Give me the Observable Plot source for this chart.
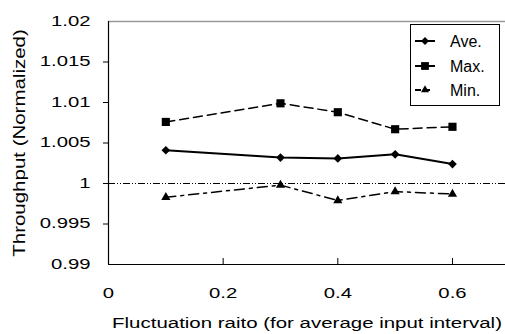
<!DOCTYPE html>
<html><head><meta charset="utf-8">
<script src="https://cdn.jsdelivr.net/npm/d3@7"></script>
<script src="https://cdn.jsdelivr.net/npm/@observablehq/plot@0.6"></script>
<style>
body{margin:0;background:#fff}
#chart{position:relative;width:505px;height:334px}
#chart svg.overlay{position:absolute;left:0;top:0;pointer-events:none}
</style></head><body><div id="chart"></div>
<script>
// ---- data ----
const xValues = [0.1, 0.3, 0.4, 0.5, 0.6];
const aveValues = [1.0041, 1.0032, 1.0031, 1.0036, 1.0024];
const maxValues = [1.0076, 1.0099, 1.0088, 1.0067, 1.0070];
const minValues = [0.9983, 0.9998, 0.9979, 0.9990, 0.9987];
const seriesNames = ["Ave.", "Max.", "Min."];
const yTicks = [0.99, 0.995, 1, 1.005, 1.01, 1.015, 1.02];
const yTickLabels = ["0.99", "0.995", "1", "1.005", "1.01", "1.015", "1.02"];
const xTicks = [0, 0.2, 0.4, 0.6];
const xTickLabels = ["0", "0.2", "0.4", "0.6"];
const referenceValue = [1];
const xLabel = "Fluctuation raito (for average input interval)";
const yLabel = "Throughput (Normalized)";

// ---- styles ----
const seriesStyle = {
  "Ave.": {symbol: "diamond2", r: 3.9, width: 2, dash: null, lDash: null, lr: 3.6},
  "Max.": {symbol: "square", r: 4.6, width: 1.5, dash: "9,5", lDash: null, lr: 4.4},
  "Min.": {symbol: "triangle", r: 3.4, width: 1.5, dash: "10,5,3,5", lDash: "6,6,3,20", lr: 3.0}
};
const seriesValues = [aveValues, maxValues, minValues];
const rows = seriesNames.flatMap((name, s) =>
  xValues.map((x, i) => ({series: name, x, y: seriesValues[s][i]})));

const font = "'Liberation Sans', Arial, sans-serif";
const W = 505, H = 334, mL = 108, mR = 0, mT = 21, mB = 70;
const frameH = H - mT - mB;

const marks = [
  Plot.ruleY(referenceValue, {y: d => d, stroke: "#000", strokeWidth: 1, strokeDasharray: "7,2,1,2,1,2"}),
  Plot.ruleY([yTicks[yTicks.length - 1]], {y: d => d, stroke: "#9a9a9a", strokeWidth: 1.5}),
  Plot.ruleY([yTicks[0]], {y: d => d, stroke: "#000", strokeWidth: 1.2}),
  Plot.ruleX([xTicks[0]], {x: d => d, stroke: "#000", strokeWidth: 1.2}),
  Plot.ruleX(xTicks.slice(1), {x: d => d, stroke: "#000", strokeWidth: 1, insetTop: frameH - 6}),
  Plot.axisY(yTicks.slice(1, -1), {tickSize: 5, tickFormat: () => "", stroke: "#000"}),
  Plot.axisY({ticks: yTicks, tickSize: 0, tickPadding: 18, fontSize: 14, fill: "#000",
    tickFormat: d => yTickLabels[yTicks.indexOf(d)]}),
  Plot.axisX({ticks: xTicks, tickSize: 0, tickPadding: 24, fontSize: 14, fill: "#000",
    tickFormat: d => xTickLabels[xTicks.indexOf(d)]}),
  Plot.text([xLabel], {text: d => d, frameAnchor: "bottom", dy: 63, fontSize: 15.5, fill: "#000"}),
  Plot.text([yLabel], {text: d => d, frameAnchor: "left", textAnchor: "middle", lineAnchor: "middle",
    dx: -89, rotate: -90, fontSize: 16, fill: "#000"})
];
for (const name of seriesNames) {
  const st = seriesStyle[name];
  const data = rows.filter(d => d.series === name);
  marks.push(Plot.line(data, {x: "x", y: "y", stroke: "#000", strokeWidth: st.width,
    strokeDasharray: st.dash || undefined}));
  marks.push(Plot.dot(data, {x: "x", y: "y", symbol: st.symbol, r: st.r, fill: "#000", stroke: "none"}));
}

const svg = Plot.plot({
  width: W, height: H, marginLeft: mL, marginRight: mR, marginTop: mT, marginBottom: mB,
  style: {fontFamily: font, background: "#fff"},
  x: {domain: [0, 0.6925], label: null},
  y: {domain: [0.99, 1.02], label: null},
  marks
});
document.getElementById("chart").appendChild(svg);

// horizontal stretch of the original's lettering
function stretch(el, k) {
  const t = el.getAttribute("transform");
  if (t) el.setAttribute("transform", t + ` scale(${k},1)`);
  else {
    const x = +(el.getAttribute("x") || 0);
    el.setAttribute("transform", `translate(${x},0) scale(${k},1) translate(${-x},0)`);
  }
}
svg.querySelectorAll("text").forEach(el => {
  const s = el.textContent;
  if (s === "") return;
  if (s === xLabel) stretch(el, 1.32);
  else if (s === yLabel) stretch(el, 1.28);
  else stretch(el, 1.45);
});

// ---- legend ----
const leg = d3.select("#chart").append("svg").attr("class", "overlay").attr("width", W).attr("height", H);
leg.append("rect").attr("x", 410.5).attr("y", 24.5).attr("width", 89).attr("height", 81)
  .attr("fill", "#fff").attr("stroke", "#000").attr("stroke-width", 1);
const symbolTypes = {diamond2: d3.symbolDiamond2, square: d3.symbolSquare, triangle: d3.symbolTriangle};
const rowY = [41, 66, 90];
seriesNames.forEach((name, i) => {
  const st = seriesStyle[name];
  const g = leg.append("g").attr("transform", `translate(0,${rowY[i]})`);
  g.append("line").attr("x1", 415).attr("x2", 435).attr("y1", 0).attr("y2", 0)
    .attr("stroke", "#000").attr("stroke-width", 2).attr("stroke-dasharray", st.lDash);
  g.append("path").attr("transform", "translate(425,0)")
    .attr("d", d3.symbol(symbolTypes[st.symbol], Math.PI * st.lr * st.lr)()).attr("fill", "#000");
  g.append("text").attr("x", 450).attr("y", 0).attr("dy", "0.36em")
    .attr("font-family", font).attr("font-size", 16).text(name);
});
</script></body></html>
